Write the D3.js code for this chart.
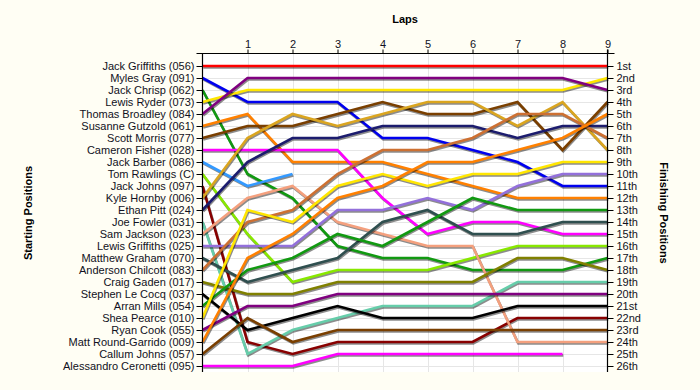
<!DOCTYPE html>
<html>
<head>
<meta charset="utf-8">
<script src="https://cdn.jsdelivr.net/npm/d3@7"></script>
<style>
  html, body { margin: 0; padding: 0; background: #FFFEF4; }
  svg { display: block; }
  text { font-family: "Liberation Sans", Arial, sans-serif; }
</style>
</head>
<body>
<svg id="chart" width="700" height="390"></svg>
<script>
// ---------------- data ----------------
const laps = [0, 1, 2, 3, 4, 5, 6, 7, 8, 9];
const lapTickLabels = ["1", "2", "3", "4", "5", "6", "7", "8", "9"];

const drivers = [
  "Jack Griffiths (056)", "Myles Gray (091)", "Jack Chrisp (062)", "Lewis Ryder (073)",
  "Thomas Broadley (084)", "Susanne Gutzold (061)", "Scott Morris (077)", "Cameron Fisher (028)",
  "Jack Barber (086)", "Tom Rawlings (C)", "Jack Johns (097)", "Kyle Hornby (006)",
  "Ethan Pitt (024)", "Joe Fowler (031)", "Sam Jackson (023)", "Lewis Griffiths (025)",
  "Matthew Graham (070)", "Anderson Chilcott (083)", "Craig Gaden (017)", "Stephen Le Cocq (037)",
  "Arran Mills (054)", "Shea Pearce (010)", "Ryan Cook (055)", "Matt Round-Garrido (009)",
  "Callum Johns (057)", "Alessandro Ceronetti (095)"
];

const finishLabels = [
  "1st", "2nd", "3rd", "4th", "5th", "6th", "7th", "8th", "9th", "10th", "11th", "12th", "13th",
  "14th", "15th", "16th", "17th", "18th", "19th", "20th", "21st", "22nd", "23rd", "24th", "25th", "26th"
];

// position of each driver at each lap (lap 0 = start)
const positions = [
  [1, 1, 1, 1, 1, 1, 1, 1, 1, 1],
  [2, 4, 4, 4, 7, 7, 8, 9, 11, 11],
  [3, 10, 12, 16, 17, 17, 18, 18, 18, 17],
  [4, 3, 3, 3, 3, 3, 3, 3, 3, 2],
  [5, 2, 2, 2, 2, 2, 2, 2, 2, 3],
  [6, 5, 9, 9, 9, 10, 11, 12, 12, 12],
  [7, 6, 6, 5, 4, 5, 5, 4, 8, 4],
  [8, 8, 8, 8, 12, 15, 14, 14, 15, 15],
  [9, 11, 10],
  [10, 15, 19, 18, 18, 18, 17, 16, 16, 16],
  [11, 24, 25, 24, 24, 24, 24, 22, 22, 22],
  [12, 7, 5, 6, 5, 4, 4, 6, 4, 8],
  [13, 9, 7, 7, 6, 6, 6, 7, 6, 6],
  [14, 25, 23, 22, 21, 21, 21, 19, 19, 19],
  [15, 12, 11, 14, 15, 16, 16, 24, 24, 24],
  [16, 16, 16, 13, 13, 12, 13, 11, 10, 10],
  [17, 19, 18, 17, 14, 13, 15, 15, 14, 14],
  [18, 14, 13, 10, 8, 8, 7, 5, 5, 7],
  [19, 20, 20, 19, 19, 19, 19, 17, 17, 18],
  [20, 23, 22, 21, 22, 22, 22, 21, 21, 21],
  [21, 18, 17, 15, 16, 14, 12, 13, 13, 13],
  [22, 13, 14, 11, 10, 11, 10, 10, 9, 9],
  [23, 21, 21, 20, 20, 20, 20, 20, 20, 20],
  [24, 17, 15, 12, 11, 9, 9, 8, 7, 5],
  [25, 22, 24, 23, 23, 23, 23, 23, 23, 23],
  [26, 26, 26, 25, 25, 25, 25, 25, 25]
];

const colors = [
  "#FF0000", "#0000EE", "#119911", "#FFE600", "#800080", "#FF8000", "#7A3F00", "#FF00FF",
  "#3399FF", "#88E800", "#880000", "#DAA520", "#1C1C6E", "#66CDAA", "#F4A07E", "#9370DB",
  "#2F4F4F", "#CD7032", "#808000", "#000000", "#119911", "#FFE600", "#800080", "#FF8000",
  "#7A3F00", "#FF00FF"
];

// ---------------- layout ----------------
const svg = d3.select("#chart");
const pLeft = 202.5, pRight = 607.5, pTop = 53.5, pBottom = 372;

const x = d3.scaleLinear().domain([0, 9]).range([pLeft, pRight]);
const y = d3.scaleLinear().domain([1, 26]).range([66, 366]);

// plot background
svg.append("rect")
  .attr("x", pLeft).attr("y", pTop)
  .attr("width", pRight - pLeft).attr("height", pBottom - pTop)
  .attr("fill", "#FFFFFF");

// grid
const grid = svg.append("g").attr("stroke", "#E6E6E6").attr("stroke-width", 1);
grid.selectAll("line.h").data(d3.range(1, 27)).join("line").attr("class", "h")
  .attr("x1", pLeft).attr("x2", pRight)
  .attr("y1", d => Math.round(y(d)) + 0.5).attr("y2", d => Math.round(y(d)) + 0.5);
grid.selectAll("line.v").data(d3.range(1, 9)).join("line").attr("class", "v")
  .attr("x1", d => Math.round(x(d)) + 0.5).attr("x2", d => Math.round(x(d)) + 0.5)
  .attr("y1", pTop).attr("y2", pBottom);

// lines
const line = d3.line().x((d, i) => x(laps[i])).y(d => y(d));
const series = positions.map((p, i) => ({ name: drivers[i], values: p, color: colors[i] }));

const lines = svg.append("g");
series.forEach(s => {
  lines.append("path")
    .attr("d", line(s.values))
    .attr("fill", "none")
    .attr("stroke", "#000")
    .attr("stroke-opacity", 0.45)
    .attr("stroke-width", 2.6)
    .attr("transform", "translate(0.8,1.4)");
  lines.append("path")
    .attr("d", line(s.values))
    .attr("fill", "none")
    .attr("stroke", s.color)
    .attr("stroke-width", 2.6);
});

// axes
const fontSize = "11px";
const leftAxis = d3.axisLeft(y)
  .tickValues(d3.range(1, 27))
  .tickFormat(d => drivers[d - 1])
  .tickSize(6).tickPadding(2);
const gL = svg.append("g").attr("transform", `translate(${pLeft},0)`).call(leftAxis);

const rightAxis = d3.axisRight(y)
  .tickValues(d3.range(1, 27))
  .tickFormat(d => finishLabels[d - 1])
  .tickSize(6).tickPadding(3);
const gR = svg.append("g").attr("transform", `translate(${pRight},0)`).call(rightAxis);

const topAxis = d3.axisTop(x)
  .tickValues(d3.range(1, 10))
  .tickFormat((d, i) => lapTickLabels[i])
  .tickSize(4).tickPadding(2);
const gT = svg.append("g").attr("transform", `translate(0,${pTop})`).call(topAxis);

[gL, gR, gT].forEach(g => {
  g.selectAll("path.domain").remove();
  g.selectAll("line").attr("stroke", "#000");
  g.selectAll("text").attr("fill", "#111122").style("font-size", fontSize)
    .style("font-family", "'Liberation Sans', Arial, sans-serif");
});

// axis lines
svg.append("line").attr("x1", pLeft).attr("x2", pLeft).attr("y1", pTop).attr("y2", pBottom)
  .attr("stroke", "#000").attr("stroke-width", 1.2);
svg.append("line").attr("x1", pRight).attr("x2", pRight).attr("y1", pTop - 4).attr("y2", pBottom)
  .attr("stroke", "#000").attr("stroke-width", 1.2);
svg.append("line").attr("x1", pLeft - 6).attr("x2", pRight + 7).attr("y1", pTop).attr("y2", pTop)
  .attr("stroke", "#000").attr("stroke-width", 1.2);

// titles
svg.append("text").attr("x", 405).attr("y", 23).attr("text-anchor", "middle")
  .style("font-size", "11px").style("font-weight", "bold").attr("fill", "#000").text("Laps");
svg.append("text").attr("transform", "translate(32,213) rotate(-90)").attr("text-anchor", "middle")
  .style("font-size", "11px").style("font-weight", "bold").attr("fill", "#000").text("Starting Positions");
svg.append("text").attr("transform", "translate(660,213) rotate(90)").attr("text-anchor", "middle")
  .style("font-size", "11px").style("font-weight", "bold").attr("fill", "#000").text("Finishing Positions");
</script>
</body>
</html>
